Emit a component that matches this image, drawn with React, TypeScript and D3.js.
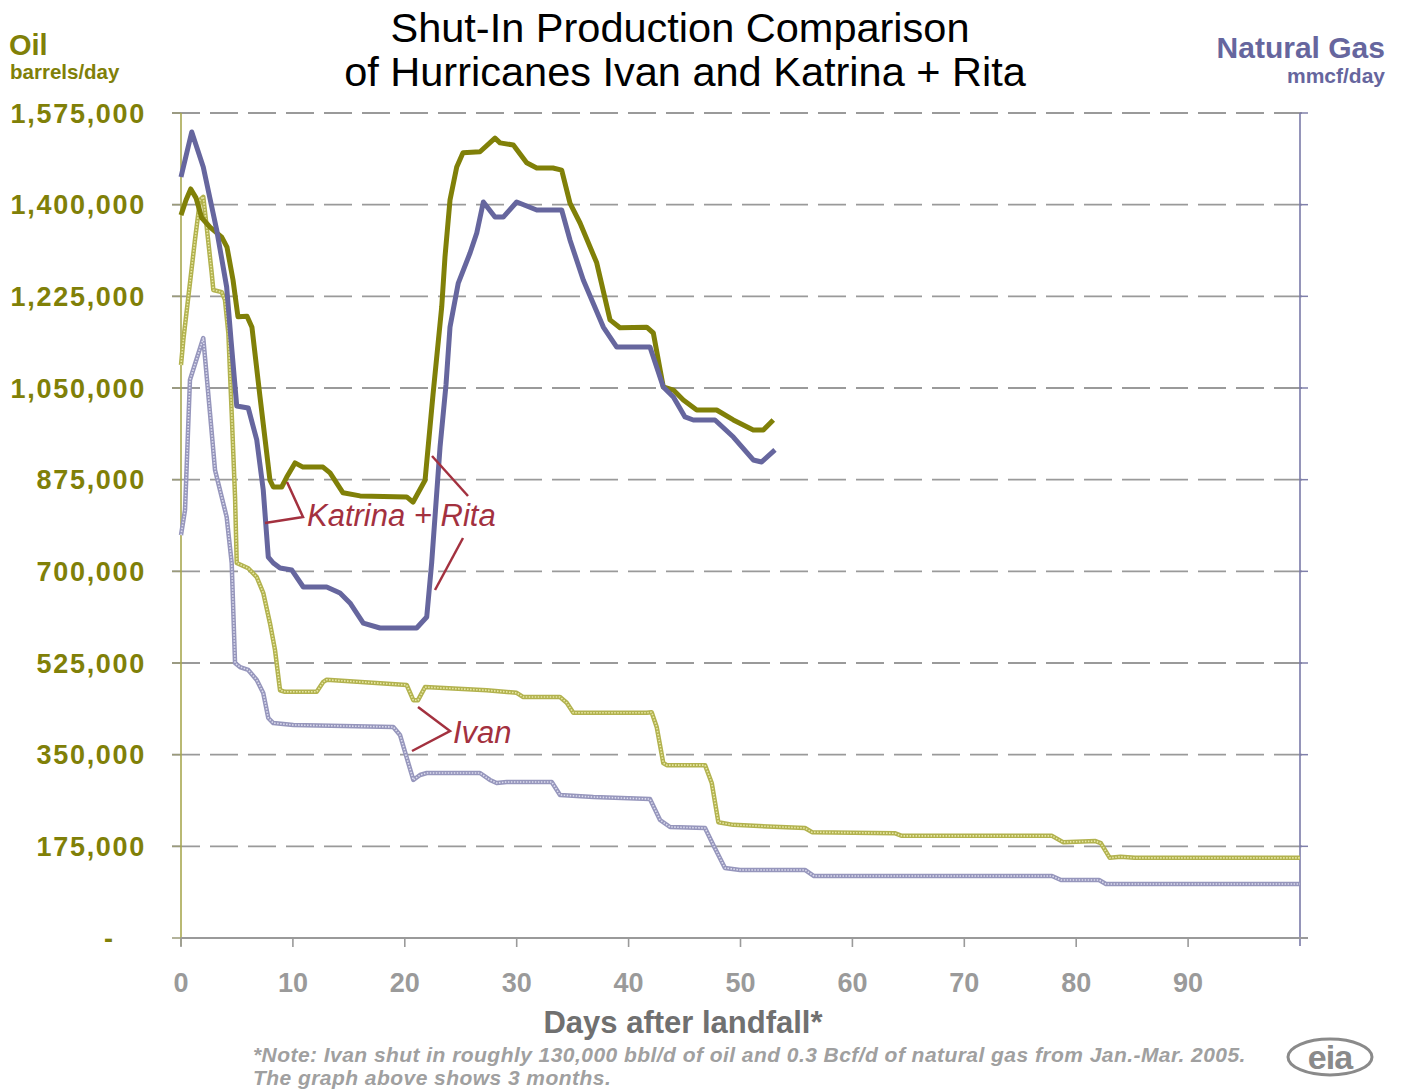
import React from "react";
import * as d3 from "d3";

// ---- data ----
// Katrina + Rita, oil shut-in (barrels/day): [day, value]
const krOil: [number, number][] = [
  [0, 1380000], [0.45, 1409000], [0.87, 1430000], [1.34, 1413000], [1.85, 1375000],
  [2.59, 1357000], [3.64, 1338000], [4.11, 1319000], [4.65, 1256000], [5.09, 1186000],
  [5.9, 1187000], [6.34, 1166000], [7.06, 1033000], [7.95, 874000], [8.25, 861000],
  [9.0, 861000], [9.45, 880000], [10.19, 907000], [10.9, 899000], [12.69, 899000],
  [13.32, 888000], [14.48, 850000], [16.0, 844000], [20.17, 842000], [20.73, 832000],
  [21.81, 874000], [22.52, 1037000], [23.3, 1205000], [23.59, 1300000], [24.04, 1409000],
  [24.64, 1472000], [25.2, 1499000], [26.72, 1501000], [28.06, 1527000], [28.51, 1518000],
  [29.7, 1514000], [30.89, 1480000], [31.79, 1470000], [33.24, 1470000], [34.02, 1466000],
  [34.76, 1403000], [35.66, 1365000], [37.15, 1289000], [38.34, 1180000], [39.23, 1165000],
  [41.62, 1166000], [42.21, 1155000], [43.1, 1052000], [44.0, 1046000], [44.89, 1027000],
  [46.09, 1008000], [47.87, 1008000], [49.36, 989000], [51.14, 970000], [52.04, 970000],
  [52.93, 989000],
];

// Katrina + Rita, natural gas shut-in (mmcf/day): [day, value]
const krGas: [number, number][] = [
  [0, 8302], [0.96, 8793], [1.99, 8411], [3.19, 7724], [4.08, 7102], [4.47, 6524],
  [4.98, 5804], [6.01, 5782], [6.77, 5433], [7.35, 4887], [7.8, 4156], [8.25, 4091],
  [8.85, 4036], [9.89, 4015], [10.93, 3829], [13.02, 3829], [14.21, 3764], [15.1, 3655],
  [16.29, 3436], [17.78, 3382], [21.06, 3382], [21.96, 3502], [22.4, 4091], [23.15, 5356],
  [23.68, 6033], [24.04, 6665], [24.78, 7145], [25.83, 7473], [26.43, 7691], [27.02, 8029],
  [28.06, 7865], [28.8, 7865], [30.0, 8029], [31.79, 7942], [34.02, 7942], [34.76, 7615],
  [35.95, 7178], [37.74, 6665], [38.94, 6447], [41.91, 6447], [43.1, 6011], [44.0, 5902],
  [45.04, 5684], [45.78, 5651], [47.72, 5651], [49.36, 5465], [51.14, 5215], [51.89, 5193],
  [53.08, 5324],
];

// Ivan, oil shut-in (barrels/day)
const ivanOil: [number, number][] = [
  [0, 1094000], [0.21, 1142000], [1.25, 1333000], [1.7, 1409000], [1.99, 1415000],
  [2.3, 1357000], [2.74, 1270000], [2.89, 1237000], [3.64, 1233000], [3.93, 1218000],
  [4.23, 1155000], [4.53, 1002000], [4.83, 842000], [4.98, 716000], [6.01, 706000],
  [6.77, 689000], [7.35, 659000], [7.95, 601000], [8.4, 550000], [8.85, 473000],
  [9.29, 470000], [12.13, 470000], [12.72, 489000], [13.02, 493000], [20.17, 483000],
  [20.76, 454000], [21.18, 454000], [21.81, 479000], [27.32, 473000], [30.0, 468000],
  [30.59, 460000], [33.87, 460000], [34.47, 449000], [35.06, 430000], [41.62, 430000],
  [42.06, 431000], [42.51, 403000], [43.1, 334000], [43.41, 330000], [46.83, 330000],
  [47.43, 296000], [48.02, 221000], [49.36, 216000], [53.53, 212000], [55.76, 210000],
  [56.39, 202000], [63.78, 200000], [64.42, 195000], [77.84, 195000], [78.82, 183000],
  [81.72, 185000], [82.2, 181000], [83.0, 153000], [83.96, 155000], [85.24, 153000],
  [100, 153000],
];

// Ivan, natural gas shut-in (mmcf/day)
const ivanGas: [number, number][] = [
  [0, 4396], [0.36, 4669], [0.8, 6087], [1.99, 6545], [2.59, 5727], [3.04, 5105],
  [4.08, 4593], [4.53, 4091], [4.83, 3000], [5.27, 2956], [6.01, 2924], [6.77, 2815],
  [7.35, 2673], [7.8, 2400], [8.25, 2345], [10.04, 2324], [18.97, 2302], [19.57, 2215],
  [20.76, 1724], [21.36, 1778], [21.96, 1800], [26.72, 1800], [27.61, 1724], [28.21, 1691],
  [29.11, 1702], [33.13, 1702], [33.87, 1560], [36.85, 1538], [41.91, 1516], [42.81, 1287],
  [43.7, 1211], [46.83, 1200], [47.57, 1015], [48.61, 764], [49.96, 742], [55.76, 742],
  [56.57, 676], [77.84, 676], [78.64, 633], [82.04, 633], [82.66, 589], [100, 589],
];

const oilTicks = [0, 175000, 350000, 525000, 700000, 875000, 1050000, 1225000, 1400000, 1575000];
const oilTickLabels = ["-", "175,000", "350,000", "525,000", "700,000", "875,000", "1,050,000", "1,225,000", "1,400,000", "1,575,000"];
const dayTicks = [0, 10, 20, 30, 40, 50, 60, 70, 80, 90];
const gasMax = 9000;

const W = 1403;
const H = 1091;
const FONT = "Arial, 'Liberation Sans', Helvetica, sans-serif";

export default function App() {
  const x = d3.scaleLinear().domain([0, 100]).range([181, 1300]);
  const yOil = d3.scaleLinear().domain([0, 1575000]).range([938, 113]);
  const yGas = d3.scaleLinear().domain([0, gasMax]).range([938, 113]);

  const oilLine = d3.line<[number, number]>().x((d) => x(d[0])).y((d) => yOil(d[1]));
  const gasLine = d3.line<[number, number]>().x((d) => x(d[0])).y((d) => yGas(d[1]));

  const olive = "#808008";
  const slate = "#66669e";
  const red = "#a3313f";

  const x0 = x(0);
  const x1 = x(100);

  return (
    <div style={{ position: "absolute", left: 0, top: 0 }}>
      <svg width={W} height={H} style={{ display: "block", background: "#fff" }} fontFamily={FONT}>
        {/* titles */}
        <text x={680} y={42} textAnchor="middle" fontSize={41.5} fill="#000">Shut-In Production Comparison</text>
        <text x={685} y={86} textAnchor="middle" fontSize={41.5} fill="#000">of Hurricanes Ivan and Katrina + Rita</text>

        <text x={9} y={55} fontSize={29} fontWeight="bold" fill={olive}>Oil</text>
        <text x={10} y={79} fontSize={20.5} fontWeight="bold" fill={olive}>barrels/day</text>
        <text x={1385} y={58} textAnchor="end" fontSize={30} fontWeight="bold" fill={slate}>Natural Gas</text>
        <text x={1385} y={83} textAnchor="end" fontSize={21} fontWeight="bold" fill={slate}>mmcf/day</text>

        {/* gridlines */}
        {oilTicks.slice(1).map((v) => (
          <line key={"g" + v} x1={x0 - 9} x2={x1 + 8} y1={yOil(v)} y2={yOil(v)}
            stroke="#9a9a9a" strokeWidth={1.8} strokeDasharray="28 10" />
        ))}
        {/* left ticks */}
        {oilTicks.map((v) => (
          <line key={"lt" + v} x1={x0 - 9} x2={x0} y1={yOil(v)} y2={yOil(v)} stroke="#9a9a7a" strokeWidth={1.5} />
        ))}
        {/* right ticks */}
        {oilTicks.map((v) => (
          <line key={"rt" + v} x1={x1} x2={x1 + 8} y1={yOil(v)} y2={yOil(v)} stroke="#8080aa" strokeWidth={1.5} />
        ))}

        {/* axes */}
        <line x1={x0} x2={x0} y1={113} y2={946} stroke="#a8a850" strokeWidth={1.6} />
        <line x1={x1} x2={x1} y1={113} y2={946} stroke="#7a7aa8" strokeWidth={1.6} />
        <line x1={x0} x2={x1 + 8} y1={938} y2={938} stroke="#9a9a9a" strokeWidth={2} />
        {dayTicks.map((d) => (
          <line key={"xt" + d} x1={x(d)} x2={x(d)} y1={938} y2={947} stroke="#9a9a9a" strokeWidth={1.6} />
        ))}

        {/* y tick labels */}
        {oilTicks.map((v, i) => (
          <text key={"yl" + v} x={v === 0 ? 113 : 146} y={yOil(v) + 9.5} textAnchor="end"
            fontSize={27} fontWeight="bold" fill={olive} letterSpacing={v === 0 ? 0 : 1.7}>{oilTickLabels[i]}</text>
        ))}
        {/* x tick labels */}
        {dayTicks.map((d) => (
          <text key={"xl" + d} x={x(d)} y={992} textAnchor="middle" fontSize={27} fontWeight="bold" fill="#9a9a9a">{d}</text>
        ))}
        <text x={683} y={1033} textAnchor="middle" fontSize={31} fontWeight="bold" fill="#707070">Days after landfall*</text>

        {/* Ivan lines (textured) */}
        <path d={gasLine(ivanGas) || ""} fill="none" stroke="#9696bc" strokeWidth={4.5} strokeLinejoin="round" />
        <path d={gasLine(ivanGas) || ""} fill="none" stroke="#dcdcee" strokeWidth={1.6} strokeDasharray="1.5 1.5" strokeLinejoin="round" />
        <path d={oilLine(ivanOil) || ""} fill="none" stroke="#b2b24e" strokeWidth={4.5} strokeLinejoin="round" />
        <path d={oilLine(ivanOil) || ""} fill="none" stroke="#e8e8a6" strokeWidth={1.6} strokeDasharray="1.5 1.5" strokeLinejoin="round" />

        {/* Katrina + Rita lines */}
        <path d={oilLine(krOil) || ""} fill="none" stroke={olive} strokeWidth={5} strokeLinejoin="round" />
        <path d={gasLine(krGas) || ""} fill="none" stroke={slate} strokeWidth={5} strokeLinejoin="round" />

        {/* annotations */}
        <polyline points="287,482 303,517 265,523" fill="none" stroke={red} strokeWidth={2.5} />
        <line x1={432} y1={456} x2={468} y2={496} stroke={red} strokeWidth={2.5} />
        <line x1={463} y1={538} x2={435} y2={590} stroke={red} strokeWidth={2.5} />
        <text x={307} y={526} fontSize={31} fontStyle="italic" fill={red}>Katrina + Rita</text>
        <polyline points="418,707 450,731 412,751" fill="none" stroke={red} strokeWidth={2.5} />
        <text x={453} y={743} fontSize={31} fontStyle="italic" fill={red}>Ivan</text>

        {/* note */}
        <text x={253} y={1062} fontSize={21} fontWeight="bold" fontStyle="italic" fill="#a0a0a0" letterSpacing={0.45}>*Note: Ivan shut in roughly 130,000 bbl/d of oil and 0.3 Bcf/d of natural gas from Jan.-Mar. 2005.</text>
        <text x={253} y={1085} fontSize={21} fontWeight="bold" fontStyle="italic" fill="#a0a0a0" letterSpacing={0.45}>The graph above shows 3 months.</text>

        {/* eia logo */}
        <ellipse cx={1330} cy={1057} rx={42} ry={18} fill="none" stroke="#8a8a8a" strokeWidth={3} />
        <text x={1330} y={1069} textAnchor="middle" fontSize={34} fontWeight="bold" fill="#8a8a8a" letterSpacing={-1}>eia</text>
      </svg>
    </div>
  );
}
